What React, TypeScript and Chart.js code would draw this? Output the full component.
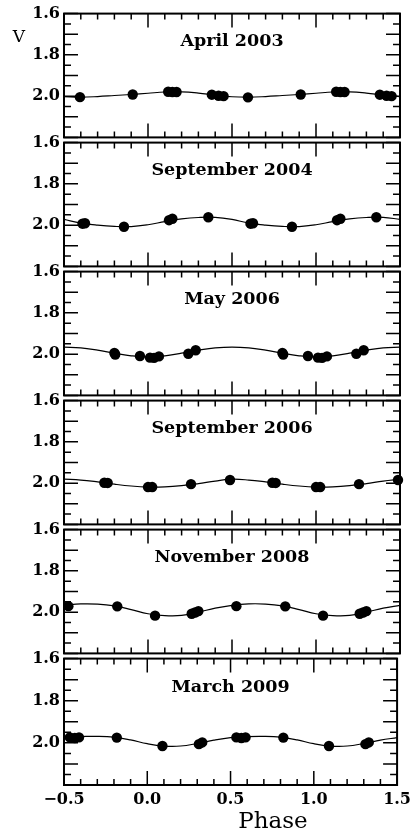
import React, { useEffect, useRef } from "react";
import { Chart, registerables } from "chart.js";

Chart.register(...registerables);

// ---------- data ----------
const panelTitles = ["April 2003", "September 2004", "May 2006", "September 2006", "November 2008", "March 2009"];

const xTickValues = [-0.5, 0.0, 0.5, 1.0, 1.5];
const yTickValues = [1.6, 1.8, 2.0];

const curvePhase = [-0.5, -0.4, -0.3, -0.2, -0.1, 0.0, 0.1, 0.2, 0.3, 0.4, 0.5, 0.6, 0.7, 0.8, 0.9, 1.0, 1.1, 1.2, 1.3, 1.4, 1.5];

const april2003Phase = [-0.405, -0.091, 0.12, 0.145, 0.17, 0.38, 0.42, 0.45, 0.595, 0.909, 1.12, 1.145, 1.17, 1.38, 1.42, 1.45];
const april2003Mag = [2.005, 1.992, 1.979, 1.98, 1.98, 1.993, 1.998, 2.0, 2.006, 1.992, 1.979, 1.98, 1.98, 1.993, 1.998, 2.0];
const april2003Curve = [2.003, 2.005, 2.002, 1.997, 1.992, 1.986, 1.98, 1.979, 1.985, 1.995, 2.003, 2.005, 2.002, 1.997, 1.992, 1.986, 1.98, 1.979, 1.985, 1.995, 2.003];

const sept2004Phase = [-0.39, -0.375, -0.143, 0.125, 0.145, 0.359, 0.61, 0.625, 0.857, 1.125, 1.145, 1.359];
const sept2004Mag = [1.993, 1.991, 2.008, 1.976, 1.969, 1.962, 1.993, 1.991, 2.008, 1.976, 1.969, 1.962];
const sept2004Curve = [1.972, 1.99, 2.0, 2.006, 2.007, 1.998, 1.983, 1.97, 1.963, 1.962, 1.972, 1.99, 2.0, 2.006, 2.007, 1.998, 1.983, 1.97, 1.963, 1.962, 1.972];

const may2006Phase = [-0.2, -0.195, -0.048, 0.012, 0.036, 0.065, 0.24, 0.284, 0.8, 0.805, 0.952, 1.012, 1.036, 1.065, 1.24, 1.284];
const may2006Mag = [1.994, 2.002, 2.009, 2.017, 2.018, 2.011, 1.998, 1.981, 1.994, 2.002, 2.009, 2.017, 2.018, 2.011, 1.998, 1.981];
const may2006Curve = [1.966, 1.97, 1.981, 1.995, 2.008, 2.014, 2.008, 1.995, 1.981, 1.97, 1.966, 1.97, 1.981, 1.995, 2.008, 2.014, 2.008, 1.995, 1.981, 1.97, 1.966];

const sept2006Phase = [-0.26, -0.24, 0.0, 0.025, 0.256, 0.488, 0.74, 0.76, 1.0, 1.025, 1.256, 1.488];
const sept2006Mag = [1.998, 1.999, 2.019, 2.019, 2.005, 1.985, 1.998, 1.999, 2.019, 2.019, 2.005, 1.985];
const sept2006Curve = [1.981, 1.985, 1.994, 2.005, 2.014, 2.019, 2.018, 2.012, 2.002, 1.99, 1.981, 1.985, 1.994, 2.005, 2.014, 2.019, 2.018, 2.012, 2.002, 1.99, 1.981];

const nov2008Phase = [-0.474, -0.183, 0.042, 0.26, 0.28, 0.3, 0.526, 0.817, 1.042, 1.26, 1.28, 1.3];
const nov2008Mag = [1.971, 1.972, 2.017, 2.008, 2.002, 1.995, 1.971, 1.972, 2.017, 2.008, 2.002, 1.995];
const nov2008Curve = [1.966, 1.96, 1.961, 1.97, 1.988, 2.008, 2.017, 2.016, 2.0, 1.981, 1.967, 1.96, 1.961, 1.97, 1.988, 2.008, 2.017, 2.016, 2.0, 1.981, 1.967];

const mar2009Phase = [-0.465, -0.435, -0.41, -0.183, 0.091, 0.31, 0.33, 0.535, 0.565, 0.59, 0.817, 1.091, 1.31, 1.33];
const mar2009Mag = [1.974, 1.977, 1.974, 1.975, 2.015, 2.006, 1.998, 1.974, 1.977, 1.974, 1.975, 2.015, 2.006, 1.998];
const mar2009Curve = [1.972, 1.97, 1.969, 1.973, 1.986, 2.004, 2.015, 2.015, 2.003, 1.987, 1.975, 1.97, 1.969, 1.973, 1.986, 2.004, 2.015, 2.015, 2.003, 1.987, 1.975];

const pointPhases = [april2003Phase, sept2004Phase, may2006Phase, sept2006Phase, nov2008Phase, mar2009Phase];
const pointMags = [april2003Mag, sept2004Mag, may2006Mag, sept2006Mag, nov2008Mag, mar2009Mag];
const curveMags = [april2003Curve, sept2004Curve, may2006Curve, sept2006Curve, nov2008Curve, mar2009Curve];

// ---------- layout ----------
const PANEL_H = 129;
const TOP_PAD = 11;
const SERIF = '"DejaVu Serif", "Liberation Serif", serif';

const fmtTick = (v: number) => (v < 0 ? "\u2212" + Math.abs(v).toFixed(1) : v.toFixed(1));

const framePlugin = {
  id: "frame",
  afterDraw(chart: any, _args: any, opts: any) {
    const { ctx, chartArea: a } = chart;
    const x = chart.scales.x;
    const y = chart.scales.y;
    ctx.save();
    ctx.strokeStyle = "#000";
    ctx.fillStyle = "#000";
    ctx.lineWidth = 1.5;
    ctx.beginPath();
    for (let k = -5; k <= 15; k++) {
      const px = x.getPixelForValue(k / 10);
      const len = k % 5 === 0 ? 14 : 6;
      ctx.moveTo(px, a.top);
      ctx.lineTo(px, a.top + len);
      ctx.moveTo(px, a.bottom);
      ctx.lineTo(px, a.bottom - len);
    }
    for (let k = 32; k <= 44; k++) {
      const py = y.getPixelForValue(k * 0.05);
      const len = k % 2 === 0 ? 14 : 7;
      ctx.moveTo(a.left, py);
      ctx.lineTo(a.left + len, py);
      ctx.moveTo(a.right, py);
      ctx.lineTo(a.right - len, py);
    }
    ctx.stroke();
    ctx.lineWidth = 2;
    ctx.strokeRect(a.left, a.top, a.right - a.left, a.bottom - a.top);

    ctx.textAlign = "center";
    ctx.textBaseline = "middle";
    ctx.font = `bold 17.5px ${SERIF}`;
    ctx.fillText(opts.text, (a.left + a.right) / 2, y.getPixelForValue(1.735));

    if (opts.vLabel) {
      ctx.font = `17px ${SERIF}`;
      ctx.fillText("V", 19, 38);
    }
    if (opts.phaseLabel) {
      ctx.font = `23px ${SERIF}`;
      ctx.textBaseline = "alphabetic";
      ctx.fillText("Phase", 273, chart.height - 6);
    }
    ctx.restore();
  },
};

function Panel({ index }: { index: number }) {
  const ref = useRef<HTMLCanvasElement>(null);
  const isLast = index === panelTitles.length - 1;
  const top = index * PANEL_H;
  const height = isLast ? 834 - top : PANEL_H + 2 * TOP_PAD;

  useEffect(() => {
    if (!ref.current) return;
    const chart = new Chart(ref.current, {
      type: "scatter",
      data: {
        datasets: [
          {
            data: curvePhase.map((p, i) => ({ x: p, y: curveMags[index][i] })),
            showLine: true,
            pointRadius: 0,
            borderColor: "#000",
            borderWidth: 1.2,
            tension: 0.4,
            order: 2,
          },
          {
            data: pointPhases[index].map((p, i) => ({ x: p, y: pointMags[index][i] })),
            showLine: false,
            pointRadius: 5.2,
            backgroundColor: "#000",
            borderColor: "#000",
            borderWidth: 0,
            clip: false as any,
            order: 1,
          },
        ],
      },
      options: {
        animation: false,
        responsive: true,
        maintainAspectRatio: false,
        events: [],
        layout: { padding: { left: 0, right: 16, top: TOP_PAD, bottom: isLast ? 0 : TOP_PAD } },
        plugins: {
          legend: { display: false },
          tooltip: { enabled: false },
          title: { display: false },
          frame: { text: panelTitles[index], vLabel: index === 0, phaseLabel: isLast },
        } as any,
        scales: {
          x: {
            type: "linear",
            min: -0.5,
            max: 1.5,
            display: isLast,
            grid: { display: false, drawTicks: false },
            border: { display: false },
            afterBuildTicks: (s: any) => {
              s.ticks = xTickValues.map((v) => ({ value: v }));
            },
            afterFit: (s: any) => {
              s.height = isLast ? height - TOP_PAD - PANEL_H : 0;
            },
            ticks: {
              autoSkip: false,
              maxRotation: 0,
              padding: 5,
              color: "#000",
              font: { family: SERIF, weight: "bold", size: 16 },
              callback: (v: any) => fmtTick(Number(v)),
            },
          },
          y: {
            type: "linear",
            reverse: true,
            min: 1.6,
            max: 2.2,
            grid: { display: false, drawTicks: false },
            border: { display: false },
            afterBuildTicks: (s: any) => {
              s.ticks = yTickValues.map((v) => ({ value: v }));
            },
            afterFit: (s: any) => {
              s.width = 64;
            },
            ticks: {
              autoSkip: false,
              padding: 4,
              color: "#000",
              font: { family: SERIF, weight: "bold", size: 16 },
              callback: (v: any) => Number(v).toFixed(1),
            },
          },
        },
      } as any,
      plugins: [framePlugin],
    });
    return () => chart.destroy();
  }, [index, height]);

  return (
    <div style={{ position: "absolute", left: 0, top, width: 416, height }}>
      <canvas ref={ref} />
    </div>
  );
}

export default function App() {
  return (
    <div style={{ position: "absolute", left: 0, top: 0, width: 416, height: 834, background: "#fff" }}>
      {panelTitles.map((_, i) => (
        <Panel key={i} index={i} />
      ))}
    </div>
  );
}
